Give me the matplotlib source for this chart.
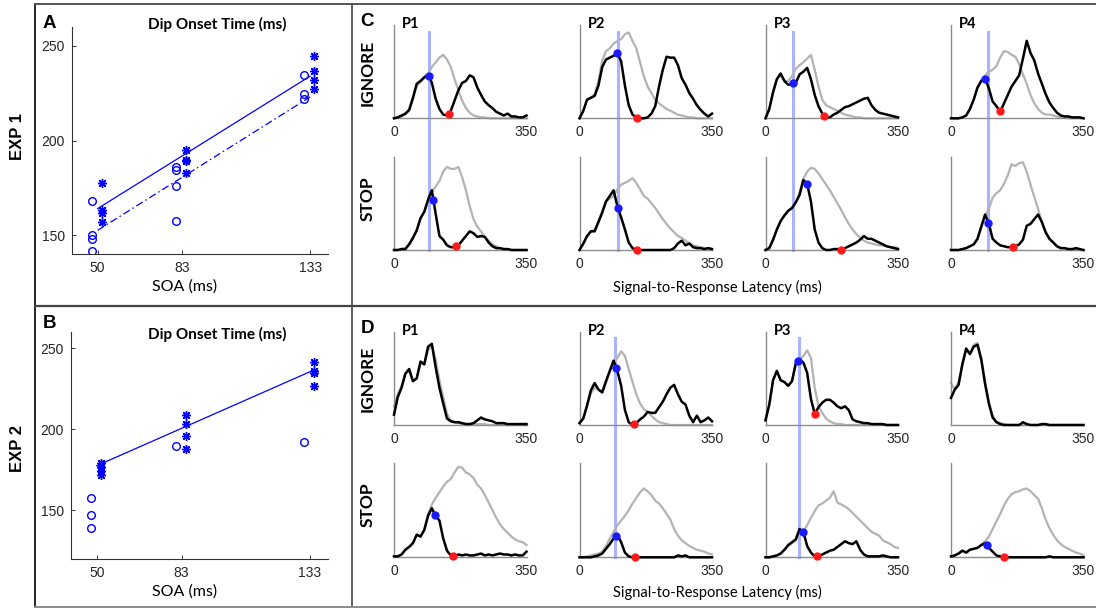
import numpy as np
import matplotlib
matplotlib.use("Agg")
import matplotlib.pyplot as plt
from matplotlib.lines import Line2D
from matplotlib import transforms

# ---- dip onset time vs SOA (panels A, B) ----
soa_ticks = [50, 83, 133]
fit_soa = [50, 133]

exp1_circ_soa = [50, 50, 50, 50, 83, 83, 83, 83, 133, 133, 133]
exp1_circ_val = [168, 150, 147.7, 141.4, 186, 184.4, 176, 157.4, 234.8, 224.4, 222]
exp1_star_soa = [50, 50, 50, 50, 83, 83, 83, 83, 133, 133, 133, 133]
exp1_star_val = [177.7, 163, 161.5, 157, 195, 189.6, 189, 182.6, 244.7, 236.8, 232, 227]
exp1_fit_star = [164, 234]
exp1_fit_circ = [152.5, 223]

exp2_circ_soa = [50, 50, 50, 83, 133]
exp2_circ_val = [157.6, 147, 139, 190, 192.2]
exp2_star_soa = [50, 50, 50, 50, 83, 83, 83, 83, 133, 133, 133, 133]
exp2_star_val = [179, 177, 174.5, 172, 208.6, 203, 195.7, 188, 241.6, 235.8, 235, 226.5]
exp2_fit_star = [177.5, 235.5]

# ---- signal-to-response latency densities (panels C, D), every 10 ms ----
latency = np.arange(0, 351, 10)

c_p1_ign_k = [0, 1, 3, 5, 9, 22, 37, 40, 44, 47, 38, 21, 10, 4, 3, 8, 19, 30, 38, 40, 46, 44, 33, 25, 18, 14, 11, 7, 5, 3, 5, 2, 2, 1, 1, 3]
c_p1_ign_g = [0, 1, 2, 4, 8, 20, 35, 39, 43, 48, 55, 60, 65, 68, 63, 55, 42, 30, 19, 11, 6, 3, 2, 1, 1, 0, 0, 0, 0, 0, 0, 0, 0, 0, 0, 0]
c_p1_stp_k = [0, 0, 1, 1, 6, 13, 21, 34, 41, 54, 64, 39, 15, 11, 5, 3, 3, 5, 10, 15, 20, 18, 14, 15, 14, 8, 4, 2, 2, 1, 1, 0, 0, 0, 0, 0]
c_p1_stp_g = [0, 0, 1, 2, 6, 13, 21, 34, 41, 52, 62, 68, 74, 84, 89, 87, 87, 89, 78, 64, 47, 33, 25, 20, 14, 10, 6, 4, 2, 1, 1, 0, 0, 0, 0, 0]

c_p2_ign_k = [0, 8, 20, 22, 24, 35, 55, 63, 65, 67, 70, 61, 35, 14, 4, 1, 0, 0, 1, 5, 13, 34, 52, 66, 65, 65, 57, 43, 36, 27, 21, 14, 9, 5, 2, 5]
c_p2_ign_g = [0, 8, 20, 22, 26, 40, 62, 72, 75, 80, 83, 85, 90, 92, 83, 75, 60, 45, 34, 27, 20, 16, 13, 10, 8, 6, 4, 3, 2, 1, 1, 0, 0, 0, 0, 0]
c_p2_stp_k = [0, 7, 15, 20, 20, 30, 40, 52, 58, 64, 47, 35, 22, 8, 2, 0, 0, 0, 0, 0, 0, 0, 0, 0, 0, 2, 7, 10, 5, 7, 3, 2, 2, 1, 2, 1]
c_p2_stp_g = [0, 6, 14, 20, 22, 30, 42, 52, 55, 58, 65, 70, 72, 74, 77, 72, 65, 58, 55, 50, 45, 39, 33, 28, 23, 19, 15, 13, 10, 7, 5, 4, 3, 2, 2, 1]

c_p3_ign_k = [0, 10, 28, 42, 48, 40, 36, 37, 38, 47, 50, 54, 42, 25, 13, 5, 1, 1, 4, 6, 9, 12, 13, 15, 17, 19, 21, 22, 14, 9, 6, 5, 4, 3, 2, 1]
c_p3_ign_g = [0, 10, 28, 42, 46, 40, 40, 45, 53, 57, 60, 64, 68, 52, 34, 20, 14, 12, 10, 8, 6, 4, 3, 2, 1, 1, 0, 0, 0, 0, 0, 0, 0, 0, 0, 0]
c_p3_stp_k = [0, 2, 11, 22, 31, 37, 42, 45, 51, 59, 75, 71, 52, 22, 8, 2, 0, 0, 1, 1, 0, 2, 4, 6, 8, 11, 15, 12, 12, 10, 8, 6, 4, 3, 2, 1]
c_p3_stp_g = [0, 2, 11, 22, 31, 37, 42, 45, 51, 62, 76, 84, 88, 87, 82, 76, 70, 64, 57, 50, 43, 35, 28, 22, 17, 13, 10, 8, 7, 6, 5, 5, 4, 3, 3, 2]

c_p4_ign_k = [0, 0, 0, 1, 3, 10, 20, 33, 40, 43, 32, 18, 13, 7, 16, 25, 34, 40, 46, 64, 83, 70, 62, 48, 37, 26, 17, 11, 6, 3, 2, 2, 1, 1, 1, 0]
c_p4_ign_g = [0, 0, 0, 1, 3, 10, 20, 33, 41, 46, 50, 52, 56, 65, 72, 71, 68, 66, 58, 47, 37, 25, 16, 10, 6, 4, 4, 3, 2, 1, 1, 0, 0, 0, 0, 0]
c_p4_stp_k = [0, 0, 0, 1, 2, 4, 6, 12, 25, 38, 28, 12, 8, 5, 4, 3, 3, 4, 6, 11, 26, 28, 33, 38, 30, 19, 12, 8, 4, 2, 2, 1, 1, 2, 1, 0]
c_p4_stp_g = [0, 0, 0, 1, 2, 4, 6, 12, 25, 36, 44, 56, 61, 64, 71, 80, 92, 90, 93, 94, 84, 70, 57, 44, 30, 19, 12, 8, 4, 2, 2, 1, 0, 0, 0, 0]

d_p1_ign_k = [11, 30, 40, 55, 60, 47, 50, 68, 65, 84, 87, 62, 40, 23, 7, 4, 3, 3, 2, 1, 1, 2, 5, 8, 6, 5, 4, 2, 2, 2, 1, 1, 1, 1, 1, 1]
d_p1_ign_g = [20, 33, 42, 55, 58, 47, 50, 66, 65, 80, 85, 70, 48, 30, 12, 5, 3, 2, 1, 1, 1, 1, 1, 1, 1, 0, 0, 0, 0, 0, 0, 0, 0, 0, 0, 0]
d_p1_stp_k = [1, 1, 3, 8, 11, 15, 24, 22, 29, 44, 52, 44, 39, 20, 7, 2, 1, 3, 2, 3, 2, 2, 3, 4, 2, 3, 2, 3, 4, 3, 3, 2, 3, 2, 2, 6]
d_p1_stp_g = [1, 1, 3, 8, 11, 15, 24, 22, 29, 46, 56, 63, 69, 75, 80, 83, 90, 96, 95, 90, 88, 84, 77, 73, 66, 58, 50, 42, 35, 30, 26, 22, 19, 17, 16, 13]

d_p2_ign_k = [2, 7, 21, 37, 45, 38, 35, 47, 58, 69, 58, 42, 16, 3, 0, 2, 6, 9, 14, 13, 13, 19, 25, 33, 40, 43, 33, 25, 22, 10, 3, 10, 3, 5, 8, 4]
d_p2_ign_g = [2, 7, 21, 34, 40, 38, 35, 45, 58, 66, 72, 79, 74, 60, 46, 33, 23, 17, 14, 10, 6, 3, 2, 1, 0, 0, 0, 0, 0, 0, 0, 0, 0, 0, 0, 0]
d_p2_stp_k = [0, 0, 0, 0, 1, 2, 4, 9, 14, 20, 24, 16, 5, 1, 0, 0, 0, 0, 0, 0, 0, 0, 0, 0, 0, 0, 2, 1, 2, 0, 0, 0, 0, 0, 0, 0]
d_p2_stp_g = [0, 0, 1, 2, 3, 4, 6, 12, 20, 27, 34, 39, 44, 50, 57, 63, 69, 73, 70, 66, 60, 57, 52, 46, 40, 30, 23, 18, 15, 12, 10, 8, 7, 6, 4, 3]

d_p3_ign_k = [5, 22, 48, 58, 48, 46, 42, 47, 66, 70, 67, 56, 28, 12, 19, 24, 27, 27, 24, 20, 18, 20, 16, 6, 4, 3, 2, 2, 1, 1, 1, 1, 0, 0, 0, 0]
d_p3_ign_g = [5, 22, 48, 58, 48, 46, 42, 47, 66, 70, 74, 80, 72, 40, 20, 13, 7, 4, 2, 1, 1, 0, 0, 0, 0, 0, 0, 0, 0, 0, 0, 0, 0, 0, 0, 0]
d_p3_stp_k = [0, 0, 1, 2, 4, 8, 13, 16, 19, 30, 27, 12, 5, 1, 1, 3, 5, 7, 8, 11, 14, 17, 15, 14, 17, 8, 3, 1, 1, 1, 1, 2, 1, 0, 0, 0]
d_p3_stp_g = [0, 0, 1, 2, 4, 8, 12, 15, 18, 25, 27, 34, 42, 49, 55, 57, 60, 63, 70, 58, 56, 54, 51, 47, 43, 39, 35, 31, 27, 25, 23, 18, 16, 14, 11, 10]

d_p4_ign_k = [29, 38, 43, 65, 82, 76, 84, 86, 70, 44, 23, 8, 3, 1, 0, 0, 0, 0, 0, 3, 1, 0, 0, 0, 1, 1, 0, 0, 0, 0, 0, 0, 0, 0, 0, 0]
d_p4_ign_g = [45, 38, 46, 65, 80, 76, 86, 88, 72, 47, 25, 10, 4, 2, 1, 0, 0, 0, 0, 0, 0, 0, 0, 0, 0, 0, 0, 0, 0, 0, 0, 0, 0, 0, 0, 0]
d_p4_stp_k = [1, 2, 4, 7, 5, 8, 9, 10, 13, 15, 10, 6, 2, 1, 0, 0, 0, 0, 0, 0, 0, 0, 0, 0, 0, 0, 1, 0, 0, 0, 0, 0, 0, 0, 0, 0]
d_p4_stp_g = [1, 2, 4, 7, 5, 8, 9, 10, 13, 17, 22, 30, 38, 46, 55, 62, 67, 69, 70, 72, 73, 70, 66, 62, 52, 40, 31, 24, 18, 14, 11, 9, 7, 5, 4, 2]

# dip start (blue) and dip minimum (red) latencies, (ignore, stop) per participant
c_blue = [(92, 104), (99, 102), (73, 110), (91, 99)]
c_red = [(144, 164), (153, 152), (155, 199), (129, 163)]
d_blue = [(None, 109), (97, 96), (86, 100), (None, 94)]
d_red = [(None, 156), (143, 146), (130, 135), (None, 141)]
c_vline = [92, 102, 73, 98]
d_vline = [None, 95, 88, None]

W, H = 1096, 608
fig = plt.figure(figsize=(W / 100, H / 100), dpi=100)

BOLD = ['Lato', 'DejaVu Sans']
TICKF = ['Liberation Sans', 'DejaVu Sans']


def add_ax(left, top, right, bottom):
    return fig.add_axes([left / W, 1 - bottom / H, (right - left) / W, (bottom - top) / H])


def ftext(x, y, s, **kw):
    kw.setdefault('ha', 'center')
    kw.setdefault('va', 'center')
    fig.text(x / W, 1 - y / H, s, **kw)


def fline(xs, ys, **kw):
    fig.add_artist(Line2D([x / W for x in xs], [1 - y / H for y in ys],
                          transform=fig.transFigure, **kw))


def scatter_panel(ax, c_soa, c_val, s_soa, s_val, fits, ylim):
    ax.plot(np.array(c_soa) - 2.2, c_val, ls='none', marker='o', mfc='none',
            mec='blue', ms=5.5, mew=1.0)
    ax.plot(np.array(s_soa) + 1.6, s_val, ls='none', marker=(8, 2, 0),
            color='blue', ms=6.5, mew=1.0)
    for fit, style in fits:
        ln, = ax.plot(fit_soa, fit, color='blue', lw=0.9)
        if style == 'dashdot':
            ln.set_dashes([6, 2.5, 1.2, 2.5])
    ax.set_xlim(40, 140)
    ax.set_ylim(*ylim)
    ax.set_xticks(soa_ticks)
    ax.set_yticks([150, 200, 250])
    for side in ('top', 'right'):
        ax.spines[side].set_visible(False)
    for side in ('left', 'bottom'):
        ax.spines[side].set_color('#333333')
        ax.spines[side].set_linewidth(0.8)
    ax.tick_params(direction='in', length=3, width=0.7, color='#333333',
                   labelsize=10, labelcolor='#262626', pad=5)
    for lab in ax.get_xticklabels() + ax.get_yticklabels():
        lab.set_family(TICKF)


# panel A
axA = add_ax(72, 27, 328, 254)
scatter_panel(axA, exp1_circ_soa, exp1_circ_val, exp1_star_soa, exp1_star_val,
              [(exp1_fit_star, 'solid'), (exp1_fit_circ, 'dashdot')], (140, 260))
# panel B
axB = add_ax(71, 332, 328, 559)
scatter_panel(axB, exp2_circ_soa, exp2_circ_val, exp2_star_soa, exp2_star_val,
              [(exp2_fit_star, 'solid')], (120, 260))

for y0 in (0, 305):
    ftext(217, 24 + y0 + (5 if y0 else 0), 'Dip Onset Time (ms)', family=BOLD,
          weight='bold', fontsize=11)
    ftext(185, 287 + y0, 'SOA (ms)', family=BOLD, fontsize=11.5)
ftext(49, 24, 'A', family=TICKF, weight='bold', fontsize=13.5)
ftext(50, 324, 'B', family=TICKF, weight='bold', fontsize=13.5)
ftext(17, 136, 'EXP 1', family=TICKF, weight='bold', fontsize=12, rotation=90)
ftext(17, 448, 'EXP 2', family=TICKF, weight='bold', fontsize=12, rotation=90)

# panels C and D
col_left = [394, 579.5, 765.5, 951]
col_w = 132.5
panels = {
    'C': dict(rows=[(25, 118.3), (156.7, 250)],
              curves=[[(c_p1_ign_k, c_p1_ign_g), (c_p1_stp_k, c_p1_stp_g)],
                      [(c_p2_ign_k, c_p2_ign_g), (c_p2_stp_k, c_p2_stp_g)],
                      [(c_p3_ign_k, c_p3_ign_g), (c_p3_stp_k, c_p3_stp_g)],
                      [(c_p4_ign_k, c_p4_ign_g), (c_p4_stp_k, c_p4_stp_g)]],
              blue=c_blue, red=c_red, vline=c_vline, vtop=32, xlabel_y=287),
    'D': dict(rows=[(331.7, 425), (463, 557.3)],
              curves=[[(d_p1_ign_k, d_p1_ign_g), (d_p1_stp_k, d_p1_stp_g)],
                      [(d_p2_ign_k, d_p2_ign_g), (d_p2_stp_k, d_p2_stp_g)],
                      [(d_p3_ign_k, d_p3_ign_g), (d_p3_stp_k, d_p3_stp_g)],
                      [(d_p4_ign_k, d_p4_ign_g), (d_p4_stp_k, d_p4_stp_g)]],
              blue=d_blue, red=d_red, vline=d_vline, vtop=338, xlabel_y=592),
}

for name, p in panels.items():
    (t0, b0), (t1, b1) = p['rows']
    for j, left in enumerate(col_left):
        axes_pair = []
        for r, (top, bot) in enumerate(p['rows']):
            ax = add_ax(left, top, left + col_w, bot)
            ax.patch.set_visible(False)
            black, grey = p['curves'][j][r]
            ax.plot(latency, grey, color='#b3b3b3', lw=1.6, clip_on=False, zorder=2)
            ax.plot(latency, black, color='black', lw=1.8, clip_on=False, zorder=3)
            bx = p['blue'][j][r]
            rx = p['red'][j][r]
            if bx is not None:
                ax.plot(bx, np.interp(bx, latency, black), 'o', color='#1a1aff',
                        ms=6, mec='none', clip_on=False, zorder=4)
            if rx is not None:
                ax.plot(rx, np.interp(rx, latency, black), 'o', color='#ff1a1a',
                        ms=6, mec='none', clip_on=False, zorder=4)
            ax.set_xlim(0, 350)
            ax.set_ylim(0, 100)
            ax.set_xticks([0, 350])
            ax.set_yticks([])
            for side in ('top', 'right'):
                ax.spines[side].set_visible(False)
            for side in ('left', 'bottom'):
                ax.spines[side].set_color('#8c8c8c')
                ax.spines[side].set_linewidth(1.0)
            ax.tick_params(length=0, labelsize=10, labelcolor='#262626', pad=5)
            for lab in ax.get_xticklabels():
                lab.set_family(TICKF)
            axes_pair.append(ax)
        vx = p['vline'][j]
        if vx is not None:
            tr = transforms.blended_transform_factory(axes_pair[0].transData, fig.transFigure)
            fig.add_artist(Line2D([vx, vx], [1 - p['vtop'] / H, 1 - b1 / H], transform=tr,
                                  color='#aab3ff', lw=2.2, zorder=-1))
        ftext(left + 17, t0 - 1, 'P%d' % (j + 1), family=BOLD, weight='bold', fontsize=10.5)
    ftext(368, (t0 + b0) / 2 + 1, 'IGNORE', family=BOLD, weight='bold', fontsize=12.5, rotation=90)
    ftext(368, (t1 + b1) / 2 - 5, 'STOP', family=BOLD, weight='bold', fontsize=12.5, rotation=90)
    ftext(717, p['xlabel_y'], 'Signal-to-Response Latency (ms)', family=BOLD, fontsize=10.5)
    ftext(367, t0 - 3, name, family=TICKF, weight='bold', fontsize=13.5)

# frame around the panels
fline([35, 35], [4, 607.5], color='black', lw=1.2)
fline([35, W], [4, 4], color='#555555', lw=1.4)
fline([35, W], [305.5, 305.5], color='#444444', lw=1.6)
fline([352, 352], [4, 607.5], color='#444444', lw=1.2)
fline([35, W], [607, 607], color='#8c8c8c', lw=1.4)

fig.savefig('out.png', dpi=100)
